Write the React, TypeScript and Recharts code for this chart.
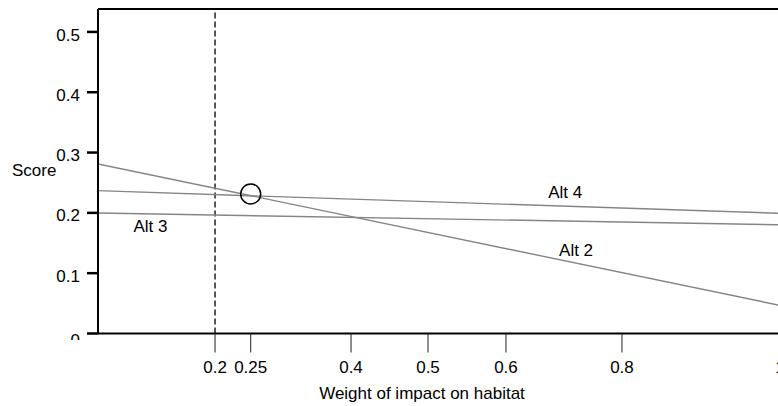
import React from 'react';
import {
  LineChart,
  Line,
  XAxis,
  YAxis,
  ReferenceLine,
  ReferenceDot,
} from 'recharts';

// x is the position along the drawn axis (0 = left frame, 1 = right end)
const X_ENDS = [0, 1];
const ALT2 = [0.281, 0.0466];
const ALT3 = [0.1998, 0.1803];
const ALT4 = [0.2368, 0.1992];

// tick positions on the axis and the weights printed under them
const X_TICK_POS = [0.1716, 0.2239, 0.371, 0.4839, 0.5982, 0.7683, 1.0];
const X_TICK_LABELS = ['0.2', '0.25', '0.4', '0.5', '0.6', '0.8', '1'];
const Y_TICKS = [0, 0.1, 0.2, 0.3, 0.4, 0.5];
const Y_MAX = 0.538;

const THRESHOLD_POS = 0.1716;
const CROSSING = { x: 0.2239, y: 0.2313 };

const LINE_LABELS = [
  { name: 'Alt 3', x: 0.077, y: 0.178 },
  { name: 'Alt 4', x: 0.685, y: 0.2346 },
  { name: 'Alt 2', x: 0.701, y: 0.1384 },
];

const rows = X_ENDS.map((x, i) => ({
  x,
  alt2: ALT2[i],
  alt3: ALT3[i],
  alt4: ALT4[i],
}));

const FONT = '"Liberation Sans", Arial, sans-serif';
const LINE_COLOR = '#858585';

function YTick(props: any) {
  const { x, y, payload } = props;
  const label = String(payload.value);
  if (payload.value === 0) {
    return (
      <g>
        <defs>
          <clipPath id="zeroClip">
            <rect x={0} y={0} width={x + 10} height={340} />
          </clipPath>
        </defs>
        <text
          x={x}
          y={y + 12}
          textAnchor="end"
          fontSize={17}
          fill="#000"
          clipPath="url(#zeroClip)"
        >
          {label}
        </text>
      </g>
    );
  }
  return (
    <text x={x} y={y + 8.6} textAnchor="end" fontSize={17} fill="#000">
      {label}
    </text>
  );
}

export default function App() {
  return (
    <div
      style={{
        position: 'fixed',
        left: 0,
        top: 0,
        width: 778,
        height: 406,
        overflow: 'hidden',
        background: '#fff',
        fontFamily: FONT,
      }}
    >
      <LineChart
        width={800}
        height={406}
        data={rows}
        margin={{ top: 9, right: 20, bottom: 0, left: 0 }}
        style={{ fontFamily: FONT }}
      >
        <XAxis
          dataKey="x"
          type="number"
          domain={[0, 1]}
          ticks={X_TICK_POS}
          tickFormatter={(v: number) => X_TICK_LABELS[X_TICK_POS.indexOf(v)] ?? ''}
          height={72.5}
          axisLine={{ stroke: '#000', strokeWidth: 2 }}
          tickLine={{ stroke: '#222', strokeWidth: 1 }}
          tickSize={19}
          tickMargin={8}
          tick={{ fontSize: 17, fill: '#000' }}
          interval={0}
          allowDataOverflow
          label={{
            value: 'Weight of impact on habitat',
            position: 'insideBottom',
            offset: 7,
            dx: -17,
            fontSize: 17,
            fill: '#000',
          }}
        />
        <YAxis
          type="number"
          domain={[0, Y_MAX]}
          ticks={Y_TICKS}
          width={98}
          axisLine={{ stroke: '#000', strokeWidth: 2 }}
          tickLine={{ stroke: '#000', strokeWidth: 2.5 }}
          tickSize={11}
          tickMargin={7}
          tick={<YTick />}
          interval={0}
          allowDataOverflow
          label={{
            value: 'Score',
            position: 'insideLeft',
            offset: 12,
            dy: -1,
            fontSize: 17,
            fill: '#000',
          }}
        />
        <ReferenceLine y={Y_MAX} stroke="#000" strokeWidth={2} />
        <ReferenceLine
          x={THRESHOLD_POS}
          stroke="#000"
          strokeWidth={1.3}
          strokeDasharray="6 3"
        />
        <Line
          dataKey="alt2"
          stroke={LINE_COLOR}
          strokeWidth={1.4}
          dot={false}
          isAnimationActive={false}
        />
        <Line
          dataKey="alt3"
          stroke={LINE_COLOR}
          strokeWidth={1.4}
          dot={false}
          isAnimationActive={false}
        />
        <Line
          dataKey="alt4"
          stroke={LINE_COLOR}
          strokeWidth={1.4}
          dot={false}
          isAnimationActive={false}
        />
        <ReferenceDot
          x={CROSSING.x}
          y={CROSSING.y}
          r={10}
          fill="none"
          stroke="#000"
          strokeWidth={1.5}
        />
        {LINE_LABELS.map((l) => (
          <ReferenceDot
            key={l.name}
            x={l.x}
            y={l.y}
            r={0}
            fill="none"
            stroke="none"
            label={{ value: l.name, position: 'center', fontSize: 17, fill: '#000' }}
          />
        ))}
      </LineChart>
    </div>
  );
}
